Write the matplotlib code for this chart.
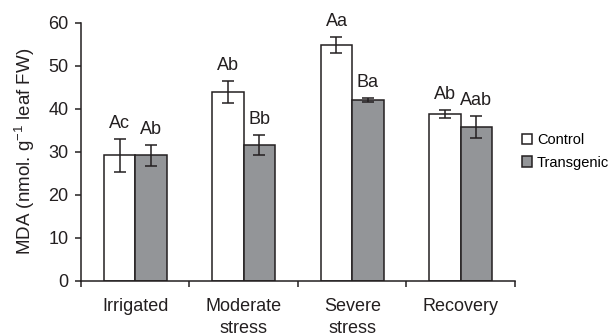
import numpy as np
import matplotlib
matplotlib.use("Agg")
import matplotlib.pyplot as plt
from matplotlib.patches import Patch

plt.rcParams['font.family'] = ['Liberation Sans', 'DejaVu Sans']
plt.rcParams['mathtext.fontset'] = 'custom'
plt.rcParams['mathtext.rm'] = 'Liberation Sans'
plt.rcParams['mathtext.default'] = 'regular'

# === DADOS ===
categories = ["Irrigated", "Moderate\nstress", "Severe\nstress", "Recovery"]
control_mean = [29.2, 43.9, 54.8, 38.8]
control_err = [3.8, 2.6, 1.8, 1.0]
transgenic_mean = [29.2, 31.6, 42.0, 35.8]
transgenic_err = [2.5, 2.3, 0.5, 2.5]
control_letters = ["Ac", "Ab", "Aa", "Ab"]
transgenic_letters = ["Ab", "Bb", "Ba", "Aab"]

EDGE = "#231f20"
GRAY = "#939598"

# === PLOT ===
fig = plt.figure(figsize=(6.09, 3.36), dpi=100)
ax = fig.add_axes([0.133, 0.1637, 0.7126, 0.7687])

x = np.arange(len(categories))
w = 0.29
err_kw = dict(ecolor=EDGE, elinewidth=1.1, capsize=4, capthick=1.1)
ax.bar(x - w / 2, control_mean, w, yerr=control_err, color="white",
       edgecolor=EDGE, linewidth=1.1, error_kw=err_kw, label="Control")
ax.bar(x + w / 2, transgenic_mean, w, yerr=transgenic_err, color=GRAY,
       edgecolor=EDGE, linewidth=1.1, error_kw=err_kw, label="Transgenic")

# letras de significância acima das barras de erro
for xs, means, errs, letters in [(x - w / 2, control_mean, control_err, control_letters),
                                 (x + w / 2, transgenic_mean, transgenic_err, transgenic_letters)]:
    for xi, m, e, lab in zip(xs, means, errs, letters):
        ax.annotate(lab, (xi, m + e), xytext=(0, 5), textcoords="offset points",
                    ha="center", va="bottom", fontsize=13, color=EDGE)

# === ESTILO ===
ax.set_ylim(0, 60)
ax.set_yticks(np.arange(0, 61, 10))
ax.set_xlim(-0.5, 3.5)
ax.set_xticks(x)
ax.set_xticklabels(categories, fontsize=13, color=EDGE, linespacing=1.4)
ax.set_xticks(np.arange(-0.5, 4, 1), minor=True)
ax.tick_params(axis="x", which="major", length=0, pad=12)
ax.tick_params(axis="x", which="minor", length=4, width=1.1, color=EDGE, direction="out")
ax.tick_params(axis="y", length=4, width=1.1, color=EDGE, labelsize=13,
               labelcolor=EDGE, pad=5)
ax.set_ylabel("MDA (nmol. g$^{-1}$ leaf FW)", fontsize=13.5, color=EDGE, labelpad=8)

ax.spines['top'].set_visible(False)
ax.spines['right'].set_visible(False)
for s in ['left', 'bottom']:
    ax.spines[s].set_linewidth(1.1)
    ax.spines[s].set_color(EDGE)

handles = [Patch(facecolor="white", edgecolor=EDGE, linewidth=1.1, label="Control"),
           Patch(facecolor=GRAY, edgecolor=EDGE, linewidth=1.1, label="Transgenic")]
fig.legend(handles=handles, loc="center left", bbox_to_anchor=(0.848, 0.55),
           frameon=False, fontsize=10.5, handlelength=0.7, handleheight=0.7,
           handletextpad=0.3, labelspacing=0.6, borderaxespad=0)

fig.savefig("out.png", dpi=100)
